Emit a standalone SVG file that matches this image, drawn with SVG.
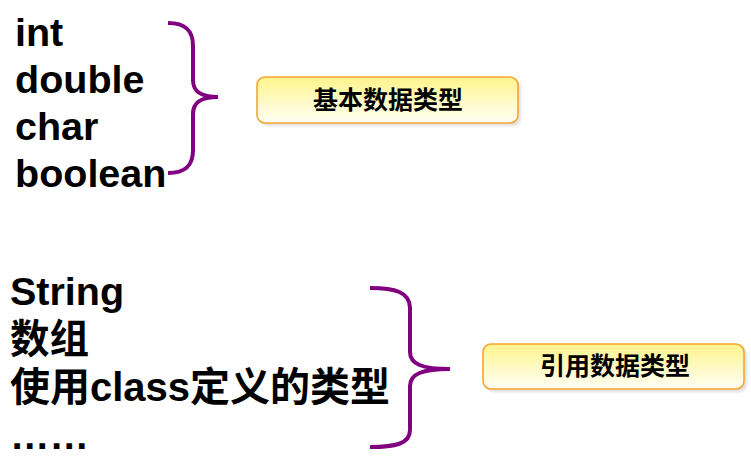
<svg xmlns="http://www.w3.org/2000/svg" width="751" height="459" viewBox="0 0 751 459">
<style>
.t{font-family:"Liberation Sans","Noto Sans CJK SC",Arial,sans-serif;font-weight:bold;font-size:39.5px;fill:#000}
.lbl{font-family:"Noto Sans CJK SC","Liberation Sans",sans-serif;font-weight:bold;font-size:25px;fill:#000;text-anchor:middle}
.box{fill:url(#g);stroke:#F7A532;stroke-width:1.6}
.shadow{fill:#000;opacity:0.12;filter:url(#blur)}
.br{fill:none;stroke:#800080;stroke-width:4;stroke-linecap:butt}
</style>
<defs>
<linearGradient id="g" x1="0" y1="0" x2="0" y2="1">
<stop offset="0" stop-color="#FFF48C"/>
<stop offset="1" stop-color="#FFFFF6"/>
</linearGradient>
<filter id="blur" x="-10%" y="-30%" width="120%" height="160%"><feGaussianBlur stdDeviation="1.5"/></filter>
</defs>
<rect width="751" height="459" fill="#fff"/>
<g id="primitive-list">
<text class="t" x="15" y="46">int</text>
<text class="t" x="15" y="93">double</text>
<text class="t" x="15" y="140">char</text>
<text class="t" x="15" y="187">boolean</text>
</g>
<g id="reference-list">
<text class="t" x="10" y="305">String</text>
<text class="t" x="10" y="353">数组</text>
<text class="t" x="10" y="401" style="font-size:40px">使用class定义的类型</text>
<text class="t" x="10" y="449">……</text>
</g>
<g id="connectors">
<path class="br" d="M168,23 C186,23 193,31 193,46 L193,80 C193,92 201,97 218,97 C201,97 193,102 193,114 L193,150 C193,165 186,173 168,173"/>
<path class="br" d="M370,288 C395,288 410,292 410,308 L410,352 C410,364 422,369 450,369 C422,369 410,374 410,386 L410,430 C410,444 395,447 370,447"/>
</g>
<g id="primitive-box">
<rect class="shadow" x="260" y="80" width="261" height="46" rx="8"/>
<rect class="box" x="257" y="77" width="261" height="46" rx="8"/>
<text class="lbl" x="388" y="109">基本数据类型</text>
</g>
<g id="reference-box">
<rect class="shadow" x="486" y="347" width="261" height="45" rx="8"/>
<rect class="box" x="483" y="344" width="261" height="45" rx="8"/>
<text class="lbl" x="615" y="375">引用数据类型</text>
</g>
</svg>
